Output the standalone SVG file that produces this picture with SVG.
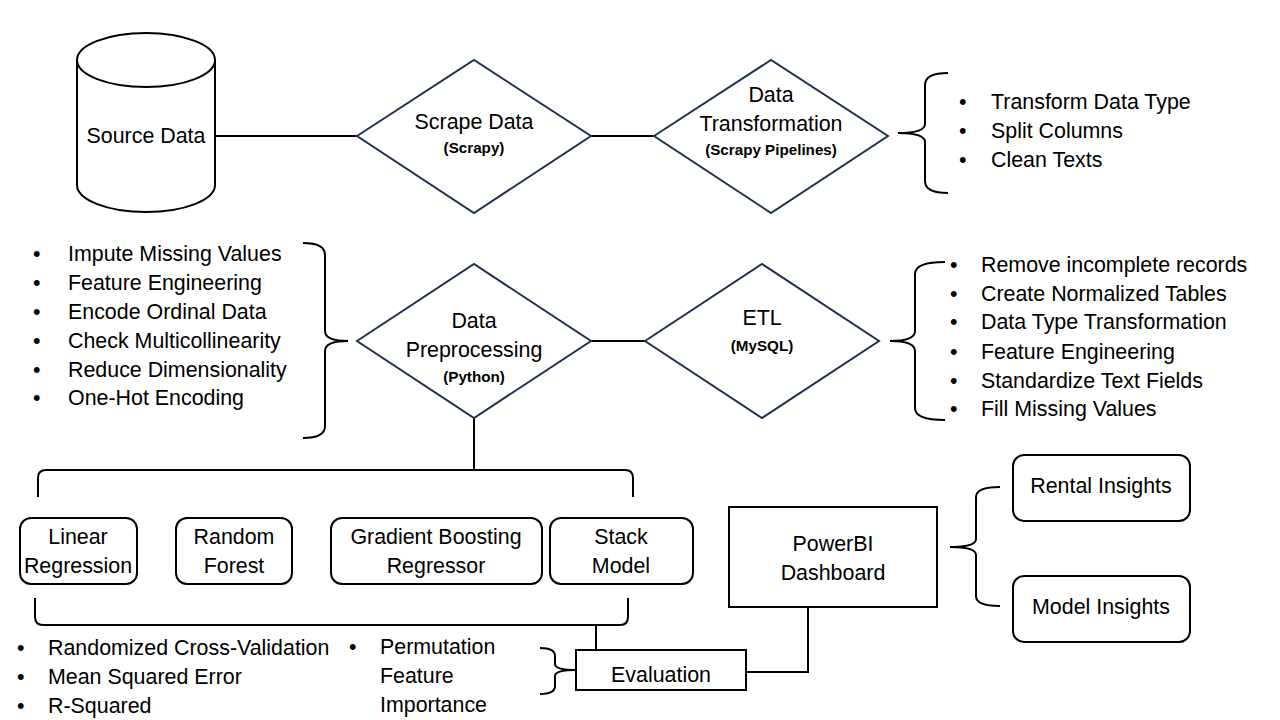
<svg xmlns="http://www.w3.org/2000/svg" width="1280" height="720" viewBox="0 0 1280 720">
<style>
  .t{font-family:"Liberation Sans",Arial,sans-serif;font-size:21.4px;fill:#000}
  .c{text-anchor:middle}
  .b{font-family:"Liberation Sans",Arial,sans-serif;font-size:15.2px;font-weight:bold;fill:#000;text-anchor:middle}
  .dia{fill:#fff;stroke:#1f3251;stroke-width:2}
  .box{fill:#fff;stroke:#000;stroke-width:2}
  .ln{fill:none;stroke:#000;stroke-width:2}
</style>
<rect width="1280" height="720" fill="#fff"/>
<g id="connectors">
  <line class="ln" x1="215" y1="136" x2="357" y2="136"/>
  <line class="ln" x1="591" y1="136" x2="654" y2="136"/>
  <line class="ln" x1="591" y1="341" x2="645" y2="341"/>
  <line class="ln" x1="474" y1="418" x2="474" y2="470"/>
  <path class="ln" d="M38,497 L38,478 Q38,470 46,470 L625,470 Q633,470 633,478 L633,497"/>
  <path class="ln" d="M35,598 L35,617 Q35,625 43,625 L620,625 Q628,625 628,617 L628,598"/>
  <line class="ln" x1="596" y1="625" x2="596" y2="650"/>
  <path class="ln" d="M746,672 L808,672 L808,607"/>
  <path id="brace-transform" class="ln" d="M948,73 Q925,73 925,85 L925,124 Q925,133 898,133 Q925,133 925,142 L925,181 Q925,193 948,193"/>
  <path id="brace-preproc" class="ln" d="M303,243 Q325,243 325,255 L325,331 Q325,341 348,341 Q325,341 325,351 L325,426 Q325,438 303,438"/>
  <path id="brace-etl" class="ln" d="M945,262 Q915,262 915,274 L915,331 Q915,341 890,341 Q915,341 915,351 L915,408 Q915,420 945,420"/>
  <path id="brace-eval" class="ln" d="M540,648 Q555,648 555,656 L555,664 Q555,670 576,670 Q555,670 555,676 L555,686 Q555,694 540,694"/>
  <path id="brace-powerbi" class="ln" d="M1000,487 Q976,487 976,497 L976,539 Q976,547 950,547 Q976,547 976,555 L976,596 Q976,606 1000,606"/>
</g>
<g id="source-data">
  <path class="box" d="M77,60 A69,27 0 0 1 215,60 L215,185 A69,27 0 0 1 77,185 Z"/>
  <path class="ln" d="M77,60 A69,27 0 0 0 215,60"/>
  <text class="t c" x="146" y="143">Source Data</text>
</g>
<g id="scrape-data">
  <polygon class="dia" points="357,136 474,60 591,136 474,213"/>
  <text class="t c" x="474" y="129">Scrape Data</text>
  <text class="b" x="474" y="153">(Scrapy)</text>
</g>
<g id="data-transformation">
  <polygon class="dia" points="654,136 771,60 888,136 771,213"/>
  <text class="t c" x="771" y="102">Data</text>
  <text class="t c" x="771" y="131">Transformation</text>
  <text class="b" x="771" y="155">(Scrapy Pipelines)</text>
</g>
<g id="transform-list" class="t">
  <text x="959" y="109">•</text><text x="991" y="109">Transform Data Type</text>
  <text x="959" y="138">•</text><text x="991" y="138">Split Columns</text>
  <text x="959" y="167">•</text><text x="991" y="167">Clean Texts</text>
</g>
<g id="preproc-list" class="t">
  <text x="33" y="261">•</text><text x="68" y="261">Impute Missing Values</text>
  <text x="33" y="290">•</text><text x="68" y="290">Feature Engineering</text>
  <text x="33" y="319">•</text><text x="68" y="319">Encode Ordinal Data</text>
  <text x="33" y="348">•</text><text x="68" y="348">Check Multicollinearity</text>
  <text x="33" y="377">•</text><text x="68" y="377">Reduce Dimensionality</text>
  <text x="33" y="405">•</text><text x="68" y="405">One-Hot Encoding</text>
</g>
<g id="data-preprocessing">
  <polygon class="dia" points="357,341 474,264 591,341 474,418"/>
  <text class="t c" x="474" y="328">Data</text>
  <text class="t c" x="474" y="357">Preprocessing</text>
  <text class="b" x="474" y="382">(Python)</text>
</g>
<g id="etl">
  <polygon class="dia" points="645,341 762,264 879,341 762,418"/>
  <text class="t c" x="762" y="325">ETL</text>
  <text class="b" x="762" y="351">(MySQL)</text>
</g>
<g id="etl-list" class="t">
  <text x="950" y="272">•</text><text x="981" y="272">Remove incomplete records</text>
  <text x="950" y="301">•</text><text x="981" y="301">Create Normalized Tables</text>
  <text x="950" y="329">•</text><text x="981" y="329">Data Type Transformation</text>
  <text x="950" y="359">•</text><text x="981" y="359">Feature Engineering</text>
  <text x="950" y="388">•</text><text x="981" y="388">Standardize Text Fields</text>
  <text x="950" y="416">•</text><text x="981" y="416">Fill Missing Values</text>
</g>
<g id="linear-regression">
  <rect class="box" x="20" y="518" width="117" height="66" rx="11"/>
  <text class="t c" x="78" y="544">Linear</text>
  <text class="t c" x="78" y="573">Regression</text>
</g>
<g id="random-forest">
  <rect class="box" x="176" y="518" width="116" height="66" rx="11"/>
  <text class="t c" x="234" y="544">Random</text>
  <text class="t c" x="234" y="573">Forest</text>
</g>
<g id="gradient-boosting">
  <rect class="box" x="331" y="518" width="211" height="66" rx="11"/>
  <text class="t c" x="436" y="544">Gradient Boosting</text>
  <text class="t c" x="436" y="573">Regressor</text>
</g>
<g id="stack-model">
  <rect class="box" x="550" y="518" width="143" height="66" rx="11"/>
  <text class="t c" x="621" y="544">Stack</text>
  <text class="t c" x="621" y="573">Model</text>
</g>
<g id="eval-list-1" class="t">
  <text x="17" y="655">•</text><text x="48" y="655">Randomized Cross-Validation</text>
  <text x="17" y="684">•</text><text x="48" y="684">Mean Squared Error</text>
  <text x="17" y="713">•</text><text x="48" y="713">R-Squared</text>
</g>
<g id="eval-list-2" class="t">
  <text x="349" y="654">•</text><text x="380" y="654">Permutation</text>
  <text x="380" y="683">Feature</text>
  <text x="380" y="712">Importance</text>
</g>
<g id="evaluation">
  <rect class="box" x="576" y="650" width="170" height="40"/>
  <text class="t c" x="661" y="682">Evaluation</text>
</g>
<g id="powerbi">
  <rect class="box" x="729" y="507" width="208" height="100"/>
  <text class="t c" x="833" y="551">PowerBI</text>
  <text class="t c" x="833" y="580">Dashboard</text>
</g>
<g id="rental-insights">
  <rect class="box" x="1013" y="455" width="177" height="66" rx="11"/>
  <text class="t c" x="1101" y="493">Rental Insights</text>
</g>
<g id="model-insights">
  <rect class="box" x="1013" y="576" width="177" height="66" rx="11"/>
  <text class="t c" x="1101" y="614">Model Insights</text>
</g>
</svg>
